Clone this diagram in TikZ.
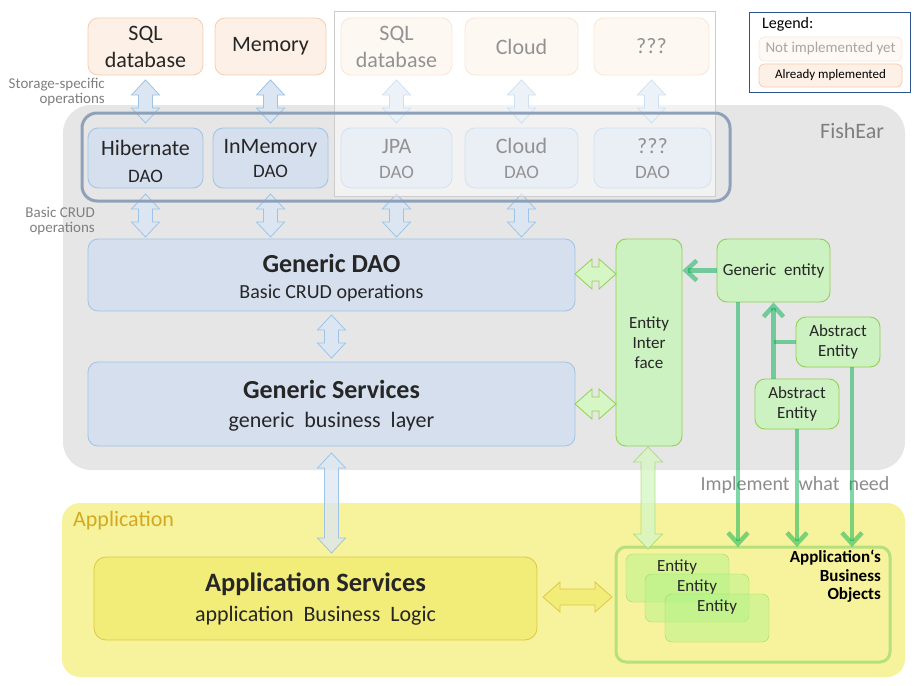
\documentclass[tikz,border=0pt]{standalone}
\usepackage{fontspec}
\setmainfont{Carlito}
\usetikzlibrary{arrows.meta}
\definecolor{txt}{HTML}{262626}
\definecolor{orgfill}{HTML}{FDF1E7}
\definecolor{orgdraw}{HTML}{F8CBAD}
\definecolor{bluefill}{HTML}{D6DFEE}
\definecolor{bluedraw}{HTML}{9DC3E6}
\definecolor{blarrfill}{HTML}{DCE6F2}
\definecolor{grnfill}{HTML}{CCF2C1}
\definecolor{grndraw}{HTML}{92D050}
\definecolor{grparrfill}{HTML}{D6F6C6}
\definecolor{grpdraw}{HTML}{8EA1B9}
\definecolor{bgray}{HTML}{E6E6E6}
\definecolor{ybg}{HTML}{F7F39C}
\definecolor{appfill}{HTML}{F2EC78}
\definecolor{appdraw}{HTML}{E0C54A}
\definecolor{appcol}{HTML}{D3A822}
\definecolor{gline}{HTML}{00B050}
\definecolor{bodraw}{HTML}{B6E07C}
\definecolor{entfill}{HTML}{B4F38A}
\definecolor{legblue}{HTML}{2F528F}
\definecolor{lbl}{HTML}{7F7F7F}
\newcommand\fsz[2]{\fontsize{#1}{#2}\selectfont}
\newcommand\bx[7]{\node[#2, minimum width={#5-#3}, minimum height={#6-#4}] (#1) at ({(#3+#5)/2},{(#4+#6)/2}) {#7};}
\newcommand\tx[5]{\node[anchor=base, inner sep=0pt, text=txt, font=#4] (#1) at (#2,#3) {#5};}
\newcommand\vdarr[7]{\path[#7] (#1,#2) -- ({#1+#4},{#2+#6}) -- ({#1+#5},{#2+#6}) -- ({#1+#5},{#3-#6}) -- ({#1+#4},{#3-#6}) -- (#1,#3) -- ({#1-#4},{#3-#6}) -- ({#1-#5},{#3-#6}) -- ({#1-#5},{#2+#6}) -- ({#1-#4},{#2+#6}) -- cycle;}
\newcommand\hdarr[7]{\path[#7] (#2,#1) -- ({#2+#6},{#1-#4}) -- ({#2+#6},{#1-#5}) -- ({#3-#6},{#1-#5}) -- ({#3-#6},{#1-#4}) -- (#3,#1) -- ({#3-#6},{#1+#4}) -- ({#3-#6},{#1+#5}) -- ({#2+#6},{#1+#5}) -- ({#2+#6},{#1+#4}) -- cycle;}
\begin{document}
\begin{tikzpicture}[x=1pt,y=-1pt,
  box/.style={rounded corners=10pt, align=center, inner sep=0pt, text=txt},
  orangebox/.style={box, draw=orgdraw, fill=orgfill, line width=0.8pt, font=\fsz{22}{27}},
  bluebox/.style={box, draw=bluedraw, fill=bluefill, line width=0.8pt},
  greenbox/.style={box, draw=grndraw, fill=grnfill, line width=0.9pt, font=\fsz{17}{20}},
  entbox/.style={box, rounded corners=7pt, draw=grndraw, draw opacity=0.8, fill=entfill, fill opacity=0.5, text opacity=1, font=\fsz{17}{20}},
  bluearr/.style={draw=bluedraw, fill=blarrfill, line width=0.8pt},
  greenarr/.style={draw=grndraw, fill=grparrfill, line width=0.8pt},
  yelarr/.style={draw=appdraw, fill=appfill, line width=0.8pt},
  garr/.style={draw=gline, draw opacity=0.5, line width=4.5pt, -{Straight Barb[length=11pt,width=20pt]}},
  gline/.style={draw=gline, draw opacity=0.5, line width=4.5pt},
  sidelbl/.style={text=lbl, font=\fsz{15}{15}, align=right, inner sep=0pt}
]
\useasboundingbox (0,0) rectangle (915,685);
% backgrounds
\fill[bgray, rounded corners=28pt] (63,105) rectangle (905,470);
\fill[ybg, rounded corners=18pt] (62,503) rectangle (905,677);
\node[text=lbl, font=\fsz{22}{26}, anchor=west, inner sep=0pt] (fishear) at (820,131) {FishEar};
\node[text=appcol, font=\fsz{22}{26}, anchor=west, inner sep=0pt] (applbl) at (73,521) {Application};
% storage boxes
\bx{sql}{orangebox}{88}{18}{203}{75}{SQL\\database}
\bx{mem}{orangebox}{215}{18}{326}{75}{Memory}
\bx{sqlb}{orangebox}{341}{18}{452}{75}{SQL\\database}
\bx{cloud}{orangebox}{465}{18}{578}{75}{Cloud}
\bx{qq}{orangebox}{594}{18}{709}{75}{???}
% DAO boxes
\bx{hib}{bluebox}{88}{128}{203}{188}{}
\bx{inmem}{bluebox}{213}{128}{328}{188}{}
\bx{jpa}{bluebox}{341}{128}{452}{188}{}
\bx{clouddao}{bluebox}{465}{128}{578}{188}{}
\bx{qqdao}{bluebox}{594}{128}{711}{188}{}
\tx{hibA}{145.5}{155}{\fsz{22}{26}}{Hibernate}
\tx{hibB}{145.5}{182}{\fsz{19}{22}}{DAO}
\tx{inmemA}{270.5}{153}{\fsz{22}{26}}{InMemory}
\tx{inmemB}{270.5}{177}{\fsz{19}{22}}{DAO}
\tx{jpaA}{396.5}{153}{\fsz{22}{26}}{JPA}
\tx{jpaB}{396.5}{178}{\fsz{19}{22}}{DAO}
\tx{cloudA}{521.5}{153}{\fsz{22}{26}}{Cloud}
\tx{cloudB}{521.5}{178}{\fsz{19}{22}}{DAO}
\tx{qqA}{652.5}{153}{\fsz{22}{26}}{???}
\tx{qqB}{652.5}{178}{\fsz{19}{22}}{DAO}
% storage arrows
\foreach \xx in {145.5,270.5,396.5,521.5,651.5}{\vdarr{\xx}{80}{123}{14}{7}{15}{bluearr}}
\foreach \xx in {145.5,270.5,396.5,521.5}{\vdarr{\xx}{194}{237}{14}{7}{15}{bluearr}}
% not-yet overlay
\path[fill=white, fill opacity=0.5, draw=black!20, line width=0.6pt] (334,11) rectangle (715,196);
% DAO group frame
\draw[grpdraw, line width=3pt, rounded corners=15pt] (82,113) rectangle (730,201);
\node[sidelbl, anchor=east] (storlbl) at (105,92) {Storage-specific\\operations};
\node[sidelbl, anchor=east] (crudlbl) at (95,221) {Basic CRUD\\operations};
% generic layers
\bx{gdao}{bluebox}{88}{239}{575}{311}{}
\tx{gdaoA}{331.5}{272}{\fsz{26}{30}\bfseries}{Generic DAO}
\tx{gdaoB}{331.5}{298}{\fsz{20}{24}}{Basic CRUD operations}
\bx{gsvc}{bluebox}{88}{362}{575}{446}{}
\tx{gsvcA}{331.5}{398}{\fsz{26}{30}\bfseries}{Generic Services}
\tx{gsvcB}{331.5}{427}{\fsz{22}{26}}{generic\ \ business\ \ layer}
\vdarr{331.5}{315}{358}{14}{7}{15}{bluearr}
% entity side
\bx{entif}{greenbox}{616}{239}{682}{446}{Entity\\Inter\\face}
\bx{gent}{greenbox}{717}{239}{830}{302}{Generic\ \ entity}
\bx{abs1}{greenbox}{796}{317}{880}{367}{Abstract\\Entity}
\bx{abs2}{greenbox}{755}{379}{839}{429}{Abstract\\Entity}
\hdarr{274}{575}{616}{15}{7}{17}{greenarr}
\hdarr{404}{575}{616}{15}{7}{17}{greenarr}
% application
\bx{appsvc}{box, draw=appdraw, fill=appfill, line width=0.8pt, rounded corners=12pt}{94}{557}{537}{640}{}
\tx{appA}{315.5}{591}{\fsz{26.5}{30}\bfseries}{Application Services}
\tx{appB}{315.5}{621}{\fsz{22}{26}}{application\ \ Business\ \ Logic}
\hdarr{597}{543}{612}{15}{8}{17}{yelarr}
\vdarr{331.5}{453}{553}{14}{7}{15}{bluearr, fill opacity=0.75}
% business objects
\draw[bodraw, line width=3pt, rounded corners=10pt] (616,547) rectangle (890,662);
\coordinate (bo) at (753,547);
\bx{ent1}{entbox}{626}{554}{729}{602}{}
\bx{ent2}{entbox}{645}{574}{749}{622}{}
\bx{ent3}{entbox}{665}{594}{769}{642}{}
\node[text=txt, font=\fsz{17}{20}, inner sep=0pt] (ent1t) at (677,567) {Entity};
\node[text=txt, font=\fsz{17}{20}, inner sep=0pt] (ent2t) at (697,587) {Entity};
\node[text=txt, font=\fsz{17}{20}, inner sep=0pt] (ent3t) at (717,607) {Entity};
\node[anchor=north east, align=right, text=black, font=\fsz{17}{18.5}\bfseries, inner sep=0pt] (bolbl) at (881,550) {Application‘s\\Business\\Objects};
\vdarr{648}{447}{549}{14.5}{7}{15}{draw=grndraw, draw opacity=0.6, fill=grparrfill, fill opacity=0.8, line width=0.8pt}
% implement text
\node[text=black!45, font=\fsz{20}{24}, inner sep=0pt] (impl) at (795,485) {Implement\ \ what\ \ need};
% green arrows
\draw[garr] (gent.west) -- (gent.west -| entif.east);
\draw[gline] (abs1.west) -- (abs1.west -| gent.south);
\draw[garr] (abs2.north -| gent.south) -- (gent.south);
\draw[garr] ([xshift=-35.5pt]gent.south) -- ([xshift=-35.5pt]gent.south |- bo);
\draw[garr] (abs2.south) -- (abs2.south |- bo);
\draw[garr] ([xshift=14pt]abs1.south) -- ([xshift=14pt]abs1.south |- bo);
% legend
\draw[legblue, line width=0.8pt, fill=white] (749,12) rectangle (910,92);
\node[anchor=west, font=\fsz{16}{18}, text=black, inner sep=0pt] (leglbl) at (762,24) {Legend:};
\bx{leg1}{box, draw=orgdraw!45, fill=orgfill!45, line width=0.8pt, rounded corners=5pt, text=black!35, font=\fsz{15}{17}}{759}{37}{902}{61}{Not implemented yet}
\bx{leg2}{box, draw=orgdraw, fill=orgfill, line width=0.8pt, rounded corners=5pt, text=black, font=\fsz{13}{15}}{759}{64}{902}{87}{Already mplemented}
\end{tikzpicture}
\end{document}
